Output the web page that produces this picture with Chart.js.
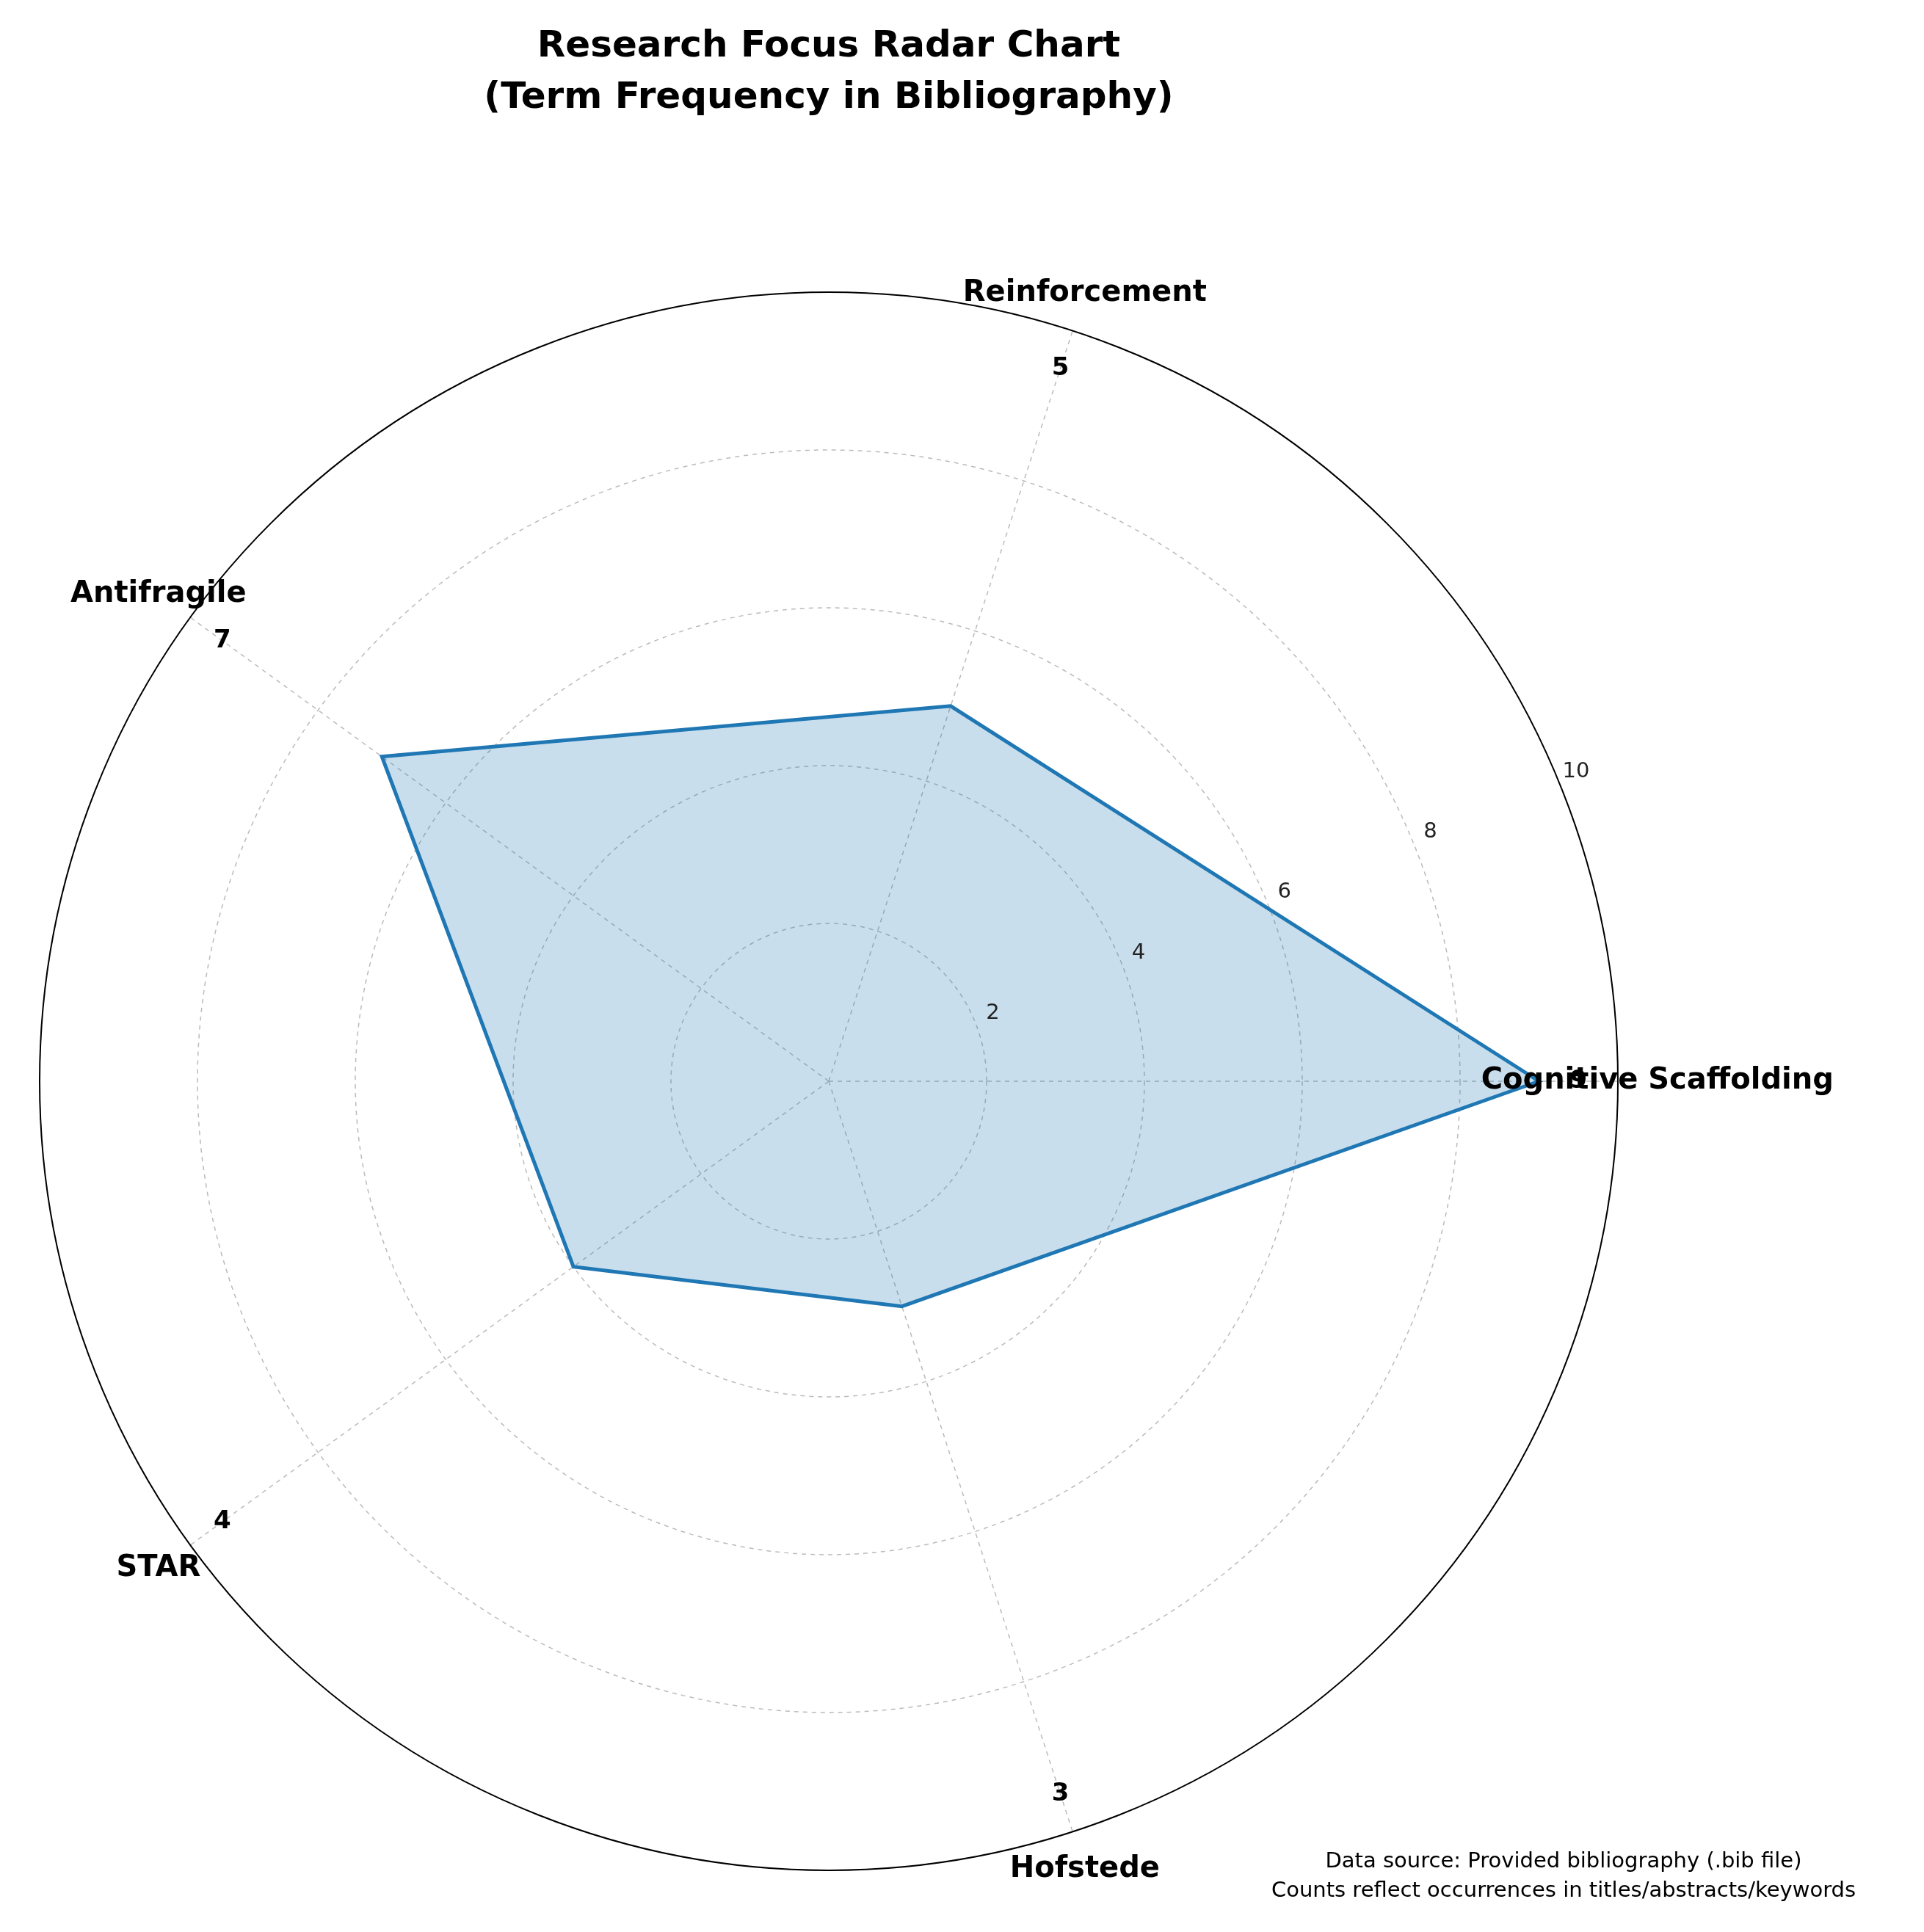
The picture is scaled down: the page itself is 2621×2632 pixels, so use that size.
<!DOCTYPE html>
<html>
<head>
<meta charset="utf-8">
<script src="https://cdn.jsdelivr.net/npm/chart.js@4/dist/chart.umd.min.js"></script>
<style>
html,body{margin:0;padding:0;background:#fff}
#wrap{width:2621px;height:2632px;position:relative}
</style>
</head>
<body>
<div id="wrap"><canvas id="radar"></canvas></div>
<script>
// order clockwise from east, like the picture
const terms = ['Cognitive Scaffolding', 'Hofstede', 'STAR', 'Antifragile', 'Reinforcement']
const counts = [9, 3, 4, 7, 5]
const tickValues = [2, 4, 6, 8, 10]
const titleLines = ['Research Focus Radar Chart', '(Term Frequency in Bibliography)']
const footnote = ['Data source: Provided bibliography (.bib file)', 'Counts reflect occurrences in titles/abstracts/keywords']

const font = 'DejaVu Sans'

const extras = {
  id: 'extras',
  afterDraw(chart) {
    const r = chart.scales.r
    const ctx = chart.ctx
    const cx = r.xCenter, cy = r.yCenter
    const at = (i, v) => {
      const ang = r.getIndexAngle(i) - Math.PI / 2
      const d = r.getDistanceFromCenterForValue(v)
      return [cx + d * Math.cos(ang), cy + d * Math.sin(ang)]
    }
    ctx.save()
    // outer circle
    ctx.beginPath()
    ctx.arc(cx, cy, r.getDistanceFromCenterForValue(10), 0, Math.PI * 2)
    ctx.strokeStyle = '#000'
    ctx.lineWidth = 2
    ctx.stroke()
    ctx.textAlign = 'center'
    ctx.textBaseline = 'middle'
    // tick labels at 22.5 degrees
    ctx.fillStyle = '#222'
    ctx.font = '29px ' + font
    const a = -22.5 * Math.PI / 180
    tickValues.forEach(v => {
      const d = r.getDistanceFromCenterForValue(v + 0.25)
      ctx.fillText(String(v), cx + d * Math.cos(a), cy + d * Math.sin(a))
    })
    // value labels
    ctx.fillStyle = '#000'
    ctx.font = 'bold 34px ' + font
    counts.forEach((v, i) => {
      const [x, y] = at(i, 9.5)
      ctx.fillText(String(v), x, y)
    })
    // category labels
    ctx.font = 'bold 40px ' + font
    terms.forEach((t, i) => {
      const [x, y] = at(i, 10.5)
      ctx.fillText(t, x, y)
    })
    // title
    ctx.font = 'bold 50px ' + font
    ctx.fillText(titleLines[0], 1129, 64)
    ctx.fillText(titleLines[1], 1129, 134)
    // footnote
    ctx.font = '29px ' + font
    ctx.fillText(footnote[0], 2130, 2536)
    ctx.fillText(footnote[1], 2130, 2576)
    ctx.restore()
  }
}

new Chart(document.getElementById('radar'), {
  type: 'radar',
  data: {
    labels: terms,
    datasets: [{
      data: counts,
      backgroundColor: 'rgba(31,119,180,0.24)',
      borderColor: '#1f77b4',
      borderWidth: 5,
      pointRadius: 0,
      fill: true
    }]
  },
  options: {
    responsive: true,
    maintainAspectRatio: false,
    animation: false,
    layout: { padding: { top: 398, bottom: 84, left: 54, right: 417 } },
    plugins: {
      legend: { display: false },
      tooltip: { enabled: false },
      title: { display: false }
    },
    scales: {
      r: {
        min: 0,
        max: 10,
        startAngle: 90,
        ticks: { display: false, stepSize: 2 },
        grid: { circular: true, color: '#bbb', lineWidth: 1.5 },
        border: { dash: [6, 6] },
        angleLines: { color: '#bbb', lineWidth: 1.5, borderDash: [6, 6] },
        pointLabels: { display: false }
      }
    }
  },
  plugins: [extras]
})
</script>
</body>
</html>
